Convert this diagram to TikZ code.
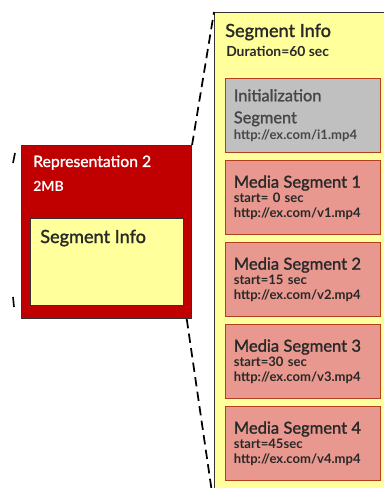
\documentclass[tikz,border=0pt]{standalone}
\usepackage{fontspec}
\setmainfont{Lato}
\newfontfamily\titlefont[FakeBold=1.4]{Lato}
\usetikzlibrary{positioning}
\definecolor{repred}{RGB}{192,0,0}
\definecolor{infoyellow}{RGB}{255,255,155}
\definecolor{initgray}{RGB}{192,192,192}
\definecolor{mediasalmon}{RGB}{232,152,142}
\definecolor{segborder}{RGB}{180,62,32}
\definecolor{segtext}{RGB}{40,40,40}
\newcommand\Fill{mediasalmon}

\begin{document}
\begin{tikzpicture}[x=0.75pt, y=-0.75pt]
                \useasboundingbox (0,0) rectangle (383,488);
                \tikzset{
                  segbox/.style={draw=segborder, line width=1pt, anchor=north west, align=left,
                    minimum width=116.25pt, minimum height=55.5pt, text width=104pt, inner xsep=6pt,
                    text=segtext, font=\fontsize{9.8}{11.25}\selectfont\bfseries},
                  zoomline/.style={black, line width=1.3pt, dash pattern=on 7pt off 4pt}
                }
                % the zoomed segment info
                \node [draw=black!80, line width=0.8pt, fill=infoyellow, anchor=north west,
                       minimum width=135pt, minimum height=370pt, inner sep=0pt] (info) at (214,12) {};
                \node [anchor=base west, inner sep=0pt, text=segtext, font=\titlefont\fontsize{13.6}{16}\selectfont]
                       (infotitle) at (225,37) {Segment Info};
                \node [anchor=base west, inner sep=0pt, text=segtext, font=\fontsize{10.4}{11}\selectfont\bfseries]
                       (infodur) at (226,57) {Duration=60 sec};

                \node [segbox, fill=initgray, text=black!72, font=\fontsize{9.8}{16.5}\selectfont\bfseries] (init) at (225,78)
                      {{\titlefont\mdseries\fontsize{12.3}{16.5}\selectfont Initialization}\\{\titlefont\mdseries\fontsize{12.3}{16.5}\selectfont Segment}\\[-4pt]http://ex.com/i1.mp4};

                \foreach \i/\st in {1/{start= 0 sec},2/{start=15 sec},3/{start=30 sec},4/{start=45sec}}{
                  \node [segbox, fill=\Fill] (m\i) at (225,{160+82*(\i-1)})
                        {{\titlefont\mdseries\fontsize{12.4}{11.25}\selectfont Media Segment \i}\\\st\\http://ex.com/v\i.mp4};
                }

                % representation
                \node [draw=black!80, line width=0.8pt, fill=repred, anchor=north west,
                       minimum width=127.5pt, minimum height=129.75pt, inner sep=0pt] (rep) at (21,145) {};
                \node [anchor=base west, inner sep=0pt, text=white, font=\titlefont\fontsize{11.8}{15}\selectfont]
                       (reptitle) at (33,167) {Representation 2};
                \node [anchor=base west, inner sep=0pt, text=white, font=\fontsize{10.5}{12}\selectfont\bfseries]
                       (repsize) at (33,191) {2MB};
                \node [draw=black!80, line width=0.8pt, fill=infoyellow, anchor=north west,
                       minimum width=114.75pt, minimum height=65.25pt, inner sep=0pt] (repinfo) at (30,218) {};
                \node [anchor=base west, inner sep=0pt, text=segtext, font=\titlefont\fontsize{13.6}{16}\selectfont]
                       (repinfotitle) at (40,243) {Segment Info};

                \draw [zoomline] (rep.north east) -- (info.north west);
                \draw [zoomline] ([xshift=-4pt]rep.south east) -- (info.south west);
                \draw [black, line width=1.2pt] (15,153) -- (13,163);
                \draw [black, line width=1.2pt] (13,297) -- (14,307);
            \end{tikzpicture}
\end{document}
